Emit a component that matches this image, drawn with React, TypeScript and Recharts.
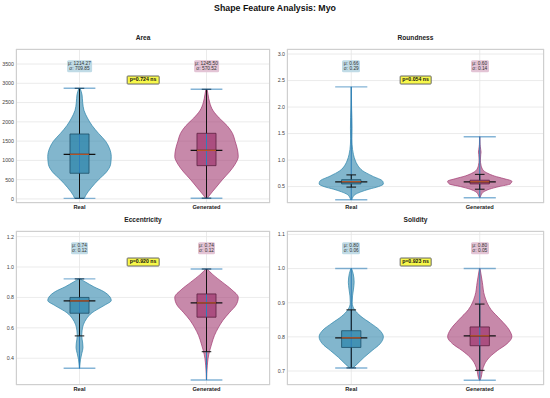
import { ComposedChart, Area, Line, XAxis, YAxis, CartesianGrid } from 'recharts'

const groups = ['Real', 'Generated']
const realColor = '#2E86AB'
const genColor = '#A23B72'
const font = '"Liberation Sans", Arial, sans-serif'

// violin outlines: [value, relative density]
const areaReal = [[2870, 0.02], [2700, 0.08], [2500, 0.1], [2300, 0.14], [2100, 0.25], [1900, 0.4], [1700, 0.6], [1500, 0.82], [1300, 0.95], [1100, 1], [900, 0.98], [700, 0.85], [500, 0.6], [300, 0.38], [100, 0.2], [15, 0.15]]
const areaGen = [[2845, 0.02], [2700, 0.05], [2500, 0.1], [2300, 0.2], [2100, 0.4], [1900, 0.65], [1700, 0.82], [1500, 0.9], [1300, 0.97], [1100, 1], [900, 0.9], [700, 0.72], [500, 0.5], [300, 0.3], [100, 0.1], [20, 0.03]]
const roundReal = [[2.38, 0.005], [2.0, 0.01], [1.8, 0.02], [1.6, 0.025], [1.4, 0.02], [1.2, 0.04], [1.1, 0.07], [1.0, 0.12], [0.9, 0.2], [0.8, 0.35], [0.7, 0.65], [0.6, 0.98], [0.55, 1], [0.5, 0.85], [0.45, 0.55], [0.4, 0.3], [0.35, 0.12], [0.3, 0.05], [0.25, 0.02]]
const roundGen = [[1.44, 0.005], [1.3, 0.01], [1.2, 0.03], [1.15, 0.04], [1.1, 0.03], [1.0, 0.02], [0.9, 0.04], [0.8, 0.12], [0.75, 0.25], [0.7, 0.45], [0.65, 0.75], [0.6, 1], [0.55, 0.95], [0.5, 0.6], [0.45, 0.3], [0.4, 0.12], [0.35, 0.05], [0.29, 0.01]]
const eccReal = [[0.922, 0.02], [0.9, 0.2], [0.87, 0.45], [0.84, 0.75], [0.8, 0.97], [0.78, 1], [0.75, 0.8], [0.72, 0.55], [0.7, 0.4], [0.66, 0.22], [0.62, 0.12], [0.58, 0.08], [0.55, 0.07], [0.5, 0.1], [0.47, 0.11], [0.43, 0.07], [0.39, 0.03], [0.35, 0.01], [0.334, 0.005]]
const eccGen = [[0.987, 0.02], [0.95, 0.2], [0.9, 0.5], [0.85, 0.8], [0.8, 1], [0.75, 0.93], [0.7, 0.72], [0.65, 0.52], [0.6, 0.37], [0.55, 0.25], [0.5, 0.17], [0.45, 0.1], [0.4, 0.05], [0.35, 0.025], [0.3, 0.01], [0.26, 0.005]]
const solReal = [[1.0, 0.01], [0.985, 0.06], [0.96, 0.09], [0.94, 0.07], [0.92, 0.04], [0.9, 0.03], [0.88, 0.1], [0.86, 0.3], [0.84, 0.6], [0.82, 0.88], [0.8, 1], [0.78, 0.9], [0.76, 0.65], [0.74, 0.4], [0.72, 0.18], [0.709, 0.05]]
const solGen = [[1.0, 0.01], [0.96, 0.08], [0.92, 0.15], [0.88, 0.35], [0.85, 0.65], [0.82, 0.92], [0.8, 1], [0.78, 0.85], [0.76, 0.55], [0.74, 0.3], [0.72, 0.15], [0.7, 0.08], [0.68, 0.04], [0.673, 0.01]]

// box stats: [min, whisker low, q1, median, q3, whisker high, max]
const areaRealBox = [15, 15, 666, 1159, 1685, 2870, 2870]
const areaGenBox = [20, 20, 864, 1262, 1703, 2845, 2845]
const roundRealBox = [0.25, 0.49, 0.55, 0.59, 0.63, 0.72, 2.38]
const roundGenBox = [0.29, 0.45, 0.55, 0.59, 0.62, 0.73, 1.44]
const eccRealBox = [0.334, 0.547, 0.696, 0.777, 0.8, 0.922, 0.922]
const eccGenBox = [0.257, 0.443, 0.67, 0.764, 0.823, 0.987, 0.987]
const solRealBox = [0.709, 0.709, 0.769, 0.797, 0.818, 0.879, 1.0]
const solGenBox = [0.673, 0.702, 0.774, 0.803, 0.829, 0.896, 1.0]

// mean / sd labels: real mean, real sd, gen mean, gen sd
const areaStats = ['1214.27', '709.85', '1245.50', '570.52']
const roundStats = ['0.66', '0.29', '0.60', '0.14']
const eccStats = ['0.74', '0.12', '0.74', '0.12']
const solStats = ['0.80', '0.06', '0.80', '0.05']

const areaTicks = [0, 500, 1000, 1500, 2000, 2500, 3000, 3500]
const roundTicks = [0.5, 1.0, 1.5, 2.0, 2.5, 3.0]
const eccTicks = [0.4, 0.6, 0.8, 1.0, 1.2]
const solTicks = [0.7, 0.8, 0.9, 1.0, 1.1]

const HALF = 0.25
const BOX = 0.075
const CAP = 0.125
const WCAP = 0.0375

const lineBase = { dataKey: 'x', dot: false, activeDot: false, isAnimationActive: false, type: 'linear' as const }

// one Line per segment: [y1, x1, y2, x2]
function segs(list: number[][], k: string, stroke: string, width: number, opacity = 1) {
  return list.map(([y1, x1, y2, x2], i) => (
    <Line key={k + i} {...lineBase} data={[{ y: y1, x: x1 }, { y: y2, x: x2 }]}
      stroke={stroke} strokeWidth={width} strokeOpacity={opacity} />
  ))
}

function violin(pairs: number[][], box: number[], pos: number, color: string, edge: string, k: string) {
  const [mn, wlo, q1, med, q3, whi, mx] = box
  const body = pairs.map(([v, d]) => ({ y: v, x: [pos - d * HALF, pos + d * HALF] }))
  const boxFill = [{ y: q1, x: [pos - BOX, pos + BOX] }, { y: q3, x: [pos - BOX, pos + BOX] }]
  const outline = [
    { y: q1, x: pos - BOX }, { y: q1, x: pos + BOX }, { y: q3, x: pos + BOX },
    { y: q3, x: pos - BOX }, { y: q1, x: pos - BOX },
  ]
  return [
    <Area key={k + 'v'} data={body} dataKey="x" type="monotoneY" fill={color} fillOpacity={0.6}
      stroke={color} strokeOpacity={0.9} strokeWidth={0.8} isAnimationActive={false} activeDot={false} />,
    ...segs([[mn, pos, mx, pos]], k + 'bar', '#2f7fb8', 1),
    ...segs([[q1, pos, wlo, pos], [q3, pos, whi, pos], [wlo, pos - WCAP, wlo, pos + WCAP], [whi, pos - WCAP, whi, pos + WCAP]], k + 'w', '#111', 1),
    <Area key={k + 'bf'} data={boxFill} dataKey="x" type="linear" fill={color} fillOpacity={0.75}
      stroke="none" isAnimationActive={false} activeDot={false} />,
    <Line key={k + 'bo'} {...lineBase} data={outline} stroke={edge} strokeWidth={0.8} />,
    ...segs([[med, pos - CAP, med, pos + CAP]], k + 'm', '#111', 1.3),
    ...segs([[med, pos - BOX, med, pos + BOX]], k + 'mo', '#e0662e', 1),
    ...segs([[mn, pos - CAP, mn, pos + CAP], [mx, pos - CAP, mx, pos + CAP]], k + 'c', '#1f77b4', 1.4, 0.55),
  ]
}

interface PanelProps {
  left: number
  top: number
  axisW: number
  right: number
  title: string
  ticks: number[]
  domain: number[]
  digits: number
  real: number[][]
  gen: number[][]
  realBox: number[]
  genBox: number[]
  stats: string[]
  p: string
}

const W = 275
const H = 175
const MT = 9
const XH = 12

function Panel({ left, top, axisW, right, title, ticks, domain, digits, real, gen, realBox, genBox, stats, p }: PanelProps) {
  const px = left + axisW
  const pw = W - axisW - right
  const py = top + MT
  const ph = H - MT - XH
  const statBox = (i: number, bg: string) => (
    <div style={{
      position: 'absolute', left: px + pw * (i === 0 ? 0.25 : 0.75), top: py + ph * 0.113,
      transform: 'translate(-50%, -50%)', background: bg, borderRadius: 1.5, padding: '0.5px 1.5px',
      fontSize: 4.8, lineHeight: 1.1, color: '#333', textAlign: 'center', whiteSpace: 'nowrap',
    }}>
      <div>μ: {stats[i * 2]}</div>
      <div>σ: {stats[i * 2 + 1]}</div>
    </div>
  )
  return (
    <>
      <div style={{ position: 'absolute', left: px, width: pw, top: py - 16.5, height: 10, lineHeight: '10px',
        textAlign: 'center', fontWeight: 'bold', fontSize: 6.6, color: '#222' }}>{title}</div>
      <div style={{ position: 'absolute', left, top }}>
        <ComposedChart layout="vertical" width={W} height={H} margin={{ top: MT, right, bottom: 0, left: 0 }}>
          <CartesianGrid stroke="#e6e6e6" strokeWidth={0.8} />
          <XAxis type="number" domain={[0.5, 2.5]} ticks={[1, 2]} height={XH} tickSize={0} tickMargin={2}
            axisLine={false} interval={0} allowDataOverflow
            tickFormatter={(v: number) => groups[v - 1]}
            tick={{ fontSize: 5.7, fontWeight: 'bold', fill: '#222', fontFamily: font }} />
          <YAxis type="number" dataKey="y" reversed domain={domain} ticks={ticks} width={axisW} tickSize={0} tickMargin={2}
            axisLine={false} interval={0} allowDataOverflow
            tickFormatter={(v: number) => v.toFixed(digits)}
            tick={{ fontSize: 5.3, fill: '#444', fontFamily: font }} />
          {violin(real, realBox, 1, realColor, '#1d4f68', 'r')}
          {violin(gen, genBox, 2, genColor, '#5c1f40', 'g')}
        </ComposedChart>
      </div>
      <div style={{ position: 'absolute', left: px, top: py, width: pw, height: ph, border: '0.8px solid #cfcfcf',
        boxSizing: 'border-box', pointerEvents: 'none' }} />
      {statBox(0, '#c0dbe6')}
      {statBox(1, '#e3c4d5')}
      <div style={{
        position: 'absolute', left: px + pw * 0.5, top: py + ph * 0.2, transform: 'translate(-50%, -50%)',
        background: '#f8f84a', border: '0.6px solid #666', borderRadius: 1.2, padding: '0.5px 2px',
        fontSize: 5.2, fontWeight: 'bold', color: '#111', whiteSpace: 'nowrap', lineHeight: 1.15,
      }}>{p}</div>
    </>
  )
}

export default function App() {
  return (
    <div style={{ position: 'absolute', left: 0, top: 0, width: 550, height: 398, background: '#fff', fontFamily: font, overflow: 'hidden' }}>
      <div style={{ position: 'absolute', left: 0, width: 550, top: 2, height: 12, lineHeight: '12px', textAlign: 'center',
        fontWeight: 'bold', fontSize: 8.8, color: '#111' }}>Shape Feature Analysis: Myo</div>
      <Panel left={0} top={40} axisW={16} right={5} title="Area" ticks={areaTicks} domain={[-105, 3890]} digits={0}
        real={areaReal} gen={areaGen} realBox={areaRealBox} genBox={areaGenBox} stats={areaStats} p="p=0.724 ns" />
      <Panel left={275} top={40} axisW={12} right={6} title="Roundness" ticks={roundTicks} domain={[0.19, 3.095]} digits={1}
        real={roundReal} gen={roundGen} realBox={roundRealBox} genBox={roundGenBox} stats={roundStats} p="p=0.054 ns" />
      <Panel left={0} top={222} axisW={16} right={5} title="Eccentricity" ticks={eccTicks} domain={[0.224, 1.237]} digits={1}
        real={eccReal} gen={eccGen} realBox={eccRealBox} genBox={eccGenBox} stats={eccStats} p="p=0.920 ns" />
      <Panel left={275} top={222} axisW={12} right={6} title="Solidity" ticks={solTicks} domain={[0.659, 1.11]} digits={1}
        real={solReal} gen={solGen} realBox={solRealBox} genBox={solGenBox} stats={solStats} p="p=0.923 ns" />
    </div>
  )
}
